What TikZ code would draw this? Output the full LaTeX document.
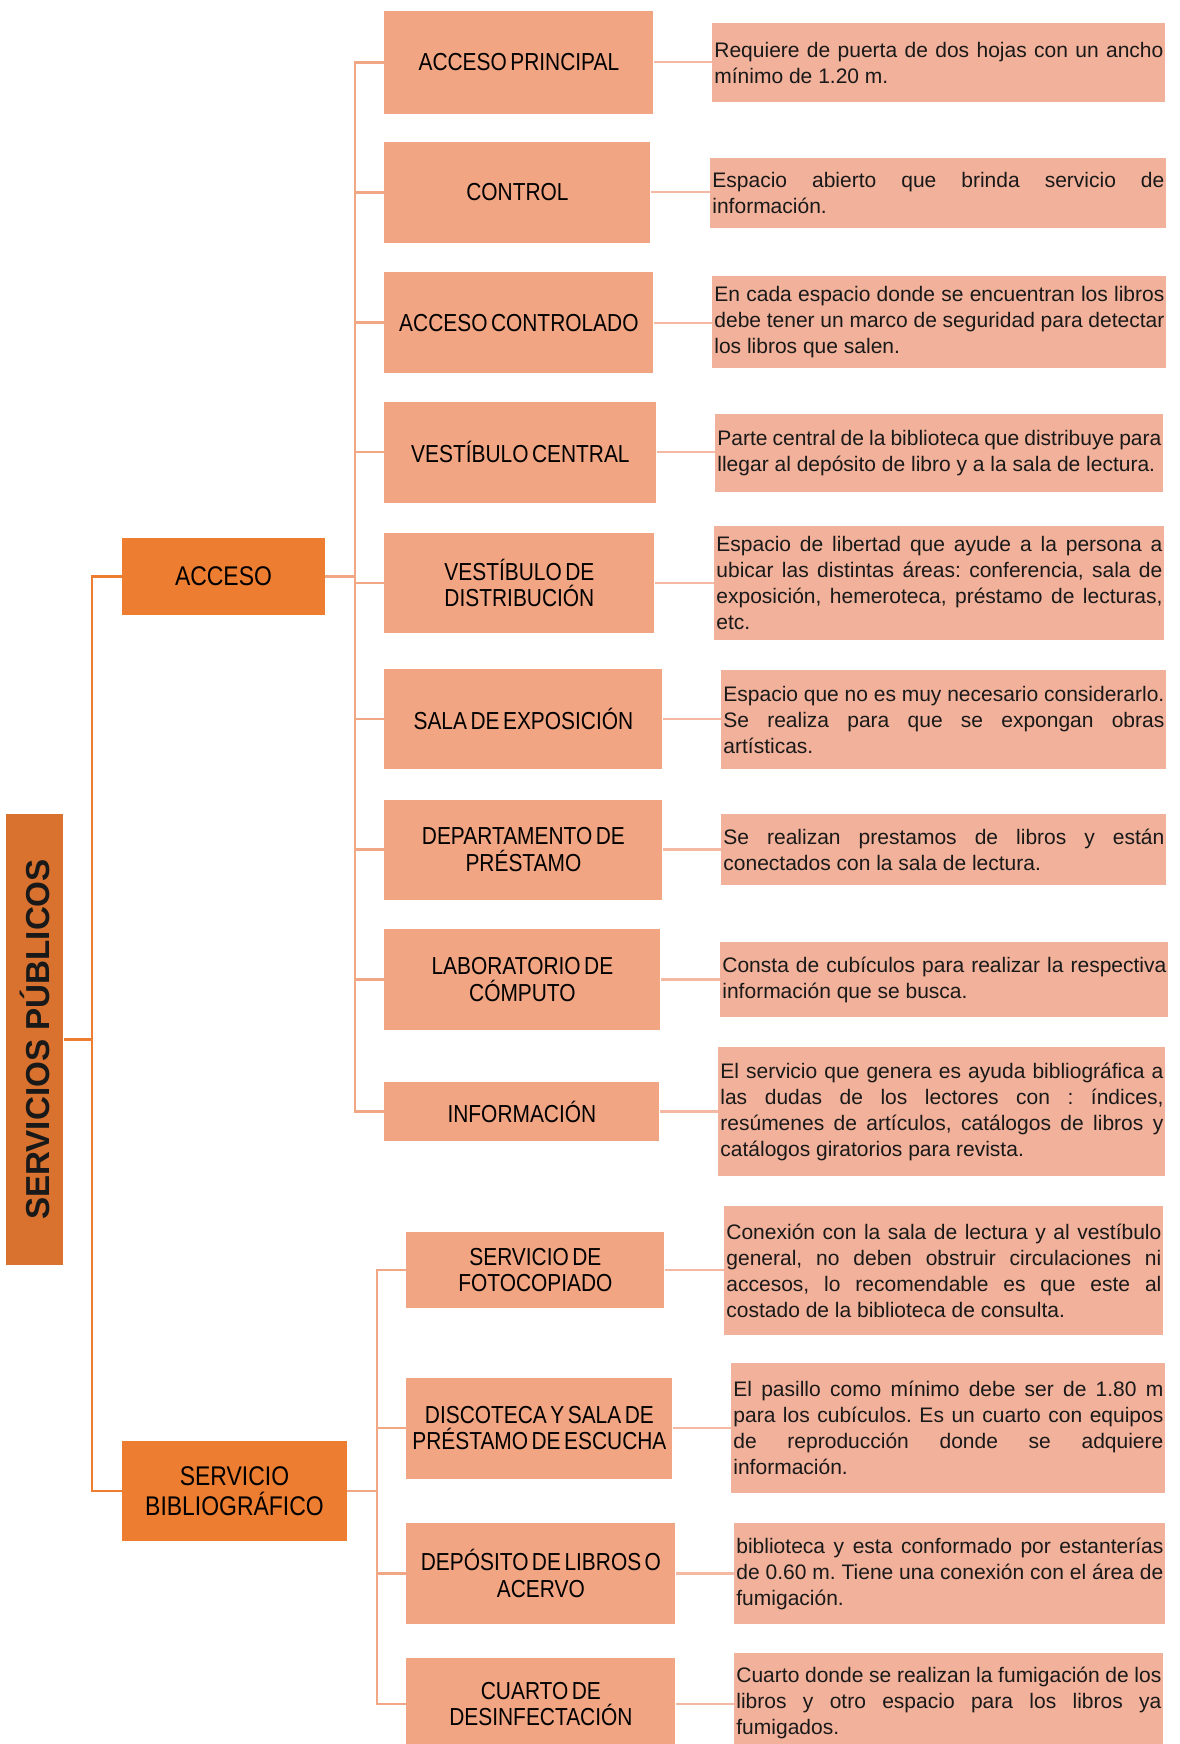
\documentclass[tikz,border=0pt]{standalone}
\usepackage{fontspec}
\setmainfont{Liberation Sans}
\newfontfamily\narrowsans[FakeStretch=0.85,WordSpace=0.6]{Liberation Sans}
\frenchspacing

\definecolor{mainorange}{HTML}{ED7D31}
\definecolor{darkorange}{HTML}{D9722F}
\definecolor{itemfill}{HTML}{F1A582}
\definecolor{descfill}{HTML}{F2B19A}
\definecolor{linkcoltwo}{HTML}{F2A784}
\definecolor{linkcolthree}{HTML}{F5B8A2}

\tikzset{
    rootbox/.style={fill=darkorange, rotate=90, inner sep=0pt, text=black!90,
        font=\bfseries\fontsize{16.6pt}{18pt}\selectfont},
    topbox/.style={fill=mainorange, align=center, inner sep=0pt,
        font=\narrowsans\fontsize{13.5pt}{14.8pt}\selectfont},
    itembox/.style={fill=itemfill, anchor=west, align=center, inner sep=0pt,
        font=\narrowsans\fontsize{12.3pt}{13.4pt}\selectfont},
    descbox/.style={fill=descfill, anchor=west, align=justify, inner xsep=1pt, inner ysep=0pt,
        text=black!90, font=\fontsize{10.5pt}{13pt}\selectfont\frenchspacing},
    sz/.style 2 args={minimum width=#1*0.5pt, minimum height=#2*0.5pt},
    linkone/.style={draw=mainorange, line width=1.3pt},
    linktwo/.style={draw=linkcoltwo, line width=1.3pt},
    linkthree/.style={draw=linkcolthree, line width=1.2pt},
}

\begin{document}
\begin{tikzpicture}[x=0.5pt, y=-0.5pt]
    \useasboundingbox (0,0) rectangle (1179,1744);
    \fill[white] (0,0) rectangle (1179,1744);
    \clip (0,0) rectangle (1179,1744);

    % main boxes
    \node[rootbox, sz={451}{57}] (serv) at (34.7,1039.5) {SERVICIOS PÚBLICOS};
    \node[topbox, sz={203}{77.5}] (acceso) at (223.5,576.7) {ACCESO};
    \node[topbox, sz={225}{100.5}] (biblio) at (234.5,1491) {SERVICIO\\BIBLIOGRÁFICO};

    % acceso
    \node[itembox, sz={269}{102.7}] (ppal) at (384,62.3) {ACCESO PRINCIPAL};
    \node[itembox, sz={266}{101}] (ctrl) at (384,192.3) {CONTROL};
    \node[itembox, sz={269}{101}] (accctrl) at (384,322.7) {ACCESO CONTROLADO};
    \node[itembox, sz={272}{101}] (vcentral) at (384,452) {VESTÍBULO CENTRAL};
    \node[itembox, sz={270}{100.5}] (vdistr) at (384,583) {VESTÍBULO DE\\DISTRIBUCIÓN};
    \node[itembox, sz={278}{100}] (salaexp) at (384,719) {SALA DE EXPOSICIÓN};
    \node[itembox, sz={278}{100}] (prestamo) at (384,849.5) {DEPARTAMENTO DE\\PRÉSTAMO};
    \node[itembox, sz={276}{101}] (lab) at (384,979.5) {LABORATORIO DE\\CÓMPUTO};
    \node[itembox, sz={275}{59}] (info) at (384,1111.5) {INFORMACIÓN};

    % servicio bibliografico
    \node[itembox, sz={258}{76}] (foto) at (406,1270) {SERVICIO DE\\FOTOCOPIADO};
    \node[itembox, sz={266}{101}] (disco) at (406,1428) {DISCOTECA Y SALA DE\\PRÉSTAMO DE ESCUCHA};
    \node[itembox, sz={269}{101}] (deposito) at (406,1573.5) {DEPÓSITO DE LIBROS O\\ACERVO};
    \node[itembox, sz={269}{92}] (cuarto) at (406,1704) {CUARTO DE\\DESINFECTACIÓN};

    % descriptions
    \node[descbox, sz={453}{78.4}, text width=224.5pt] (d1) at (712,62.5)
        {Requiere de puerta de dos hojas con un ancho\linebreak mínimo de 1.20 m.};
    \node[descbox, sz={456}{70.6}, text width=226pt] (d2) at (710,193)
        {Espacio abierto que brinda servicio de\linebreak información.};
    \node[descbox, sz={454}{92}, text width=225pt] (d3) at (712,322)
        {En cada espacio donde se encuentran los libros\linebreak debe tener un marco de seguridad para detectar\linebreak los libros que salen.};
    \node[descbox, sz={448}{78}, text width=222pt] (d4) at (715,453)
        {Parte central de la biblioteca que distribuye para\linebreak llegar al depósito de libro y a la sala de lectura.};
    \node[descbox, sz={450}{114}, text width=223pt] (d5) at (714,583)
        {Espacio de libertad que ayude a la persona a\linebreak ubicar las distintas áreas: conferencia, sala de\linebreak exposición, hemeroteca, préstamo de lecturas,\linebreak etc.};
    \node[descbox, sz={445}{99}, text width=220.5pt] (d6) at (721,719.5)
        {Espacio que no es muy necesario considerarlo.\linebreak Se realiza para que se expongan obras\linebreak artísticas.};
    \node[descbox, sz={445}{71}, text width=220.5pt] (d7) at (721,849.5)
        {Se realizan prestamos de libros y están\linebreak conectados con la sala de lectura.};
    \node[descbox, sz={448}{75}, text width=222pt] (d8) at (720,979.5)
        {Consta de cubículos para realizar la respectiva\linebreak información que se busca.};
    \node[descbox, sz={447}{129}, text width=221.5pt] (d9) at (718,1111.5)
        {El servicio que genera es ayuda bibliográfica a\linebreak las dudas de los lectores con : índices,\linebreak resúmenes de artículos, catálogos de libros y\linebreak catálogos giratorios para revista.};
    \node[descbox, sz={439}{129}, text width=217.5pt] (d10) at (724,1270.5)
        {Conexión con la sala de lectura y al vestíbulo\linebreak general, no deben obstruir circulaciones ni\linebreak accesos, lo recomendable es que este al\linebreak costado de la biblioteca de consulta.};
    \node[descbox, sz={434}{130}, text width=215pt] (d11) at (731,1428)
        {El pasillo como mínimo debe ser de 1.80 m\linebreak para los cubículos. Es un cuarto con equipos\linebreak de reproducción donde se adquiere\linebreak información.};
    \node[descbox, sz={431}{101}, text width=213.5pt] (d12) at (734,1573.5)
        {biblioteca y esta conformado por estanterías\linebreak de 0.60 m. Tiene una conexión con el área de\linebreak fumigación.};
    \node[descbox, sz={429}{100}, text width=212.5pt] (d13) at (734,1703)
        {Cuarto donde se realizan la fumigación de los\linebreak libros y otro espacio para los libros ya\linebreak fumigados.};

    % connectors
    \coordinate (busA) at (92,1039.5);
    \coordinate (busB) at (355,576.7);
    \coordinate (busC) at (377,1491);

    \draw[linkone] (serv) -- (busA);
    \draw[linkone] (acceso.west) -| (busA) |- (biblio.west);

    \draw[linktwo] (acceso) -- (busB);
    \draw[linktwo] (ppal.west) -| (busB) |- (info.west);
    \foreach \n in {ctrl,accctrl,vcentral,vdistr,salaexp,prestamo,lab}
        \draw[linktwo] (\n.west) -- (\n.west -| busB);
    \draw[linktwo] (biblio) -- (busC);
    \draw[linktwo] (foto.west) -| (busC) |- (cuarto.west);
    \foreach \n in {disco,deposito}
        \draw[linktwo] (\n.west) -- (\n.west -| busC);

    \foreach \a/\b in {ppal/d1,ctrl/d2,accctrl/d3,vcentral/d4,vdistr/d5,salaexp/d6,prestamo/d7,
        lab/d8,info/d9,foto/d10,disco/d11,deposito/d12,cuarto/d13}
        \draw[linkthree] (\a.east) -- (\a.east -| \b.west);
\end{tikzpicture}
\end{document}
